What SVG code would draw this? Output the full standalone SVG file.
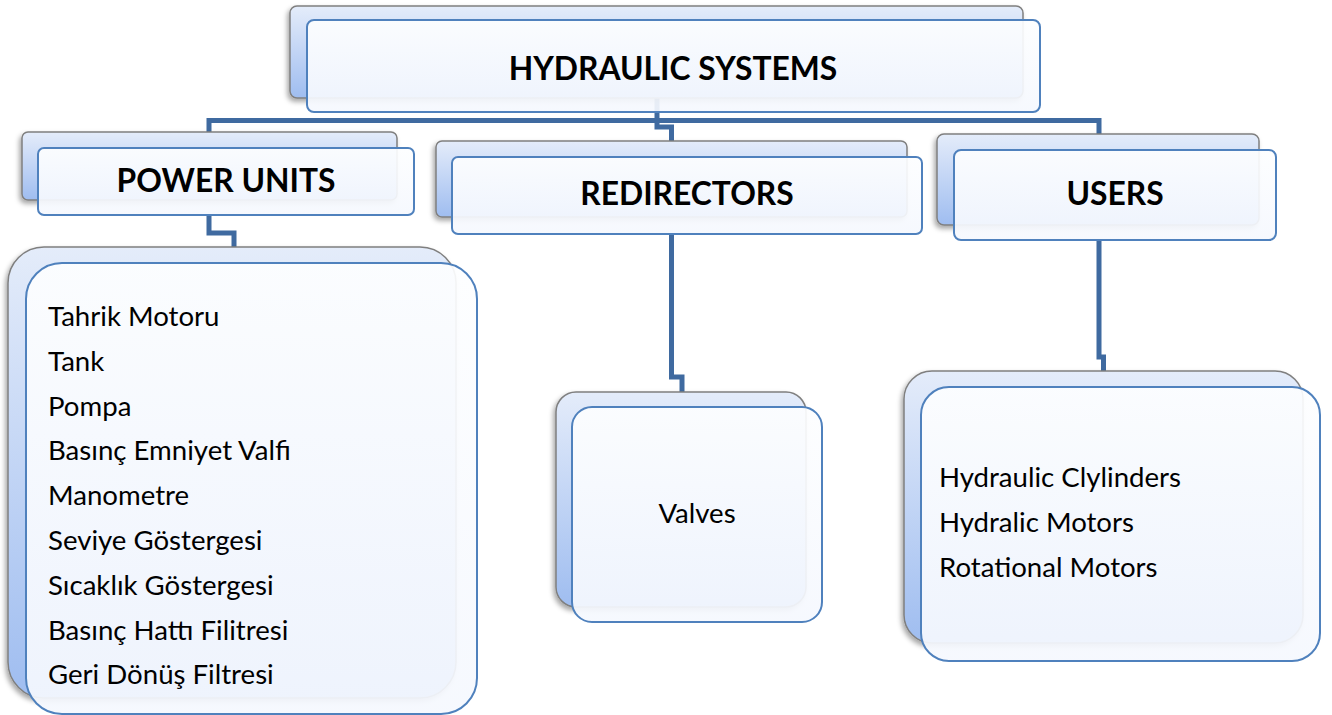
<svg xmlns="http://www.w3.org/2000/svg" width="1332" height="715" viewBox="0 0 1332 715">
<defs>
<linearGradient id="backGrad" x1="0" y1="0" x2="0" y2="1">
<stop offset="0" stop-color="#e4ecfa"/>
<stop offset="1" stop-color="#9fbdf0"/>
</linearGradient>
<linearGradient id="frontGrad" x1="0" y1="0" x2="0" y2="1">
<stop offset="0" stop-color="#fdfeff"/>
<stop offset="1" stop-color="#f5f8fe"/>
</linearGradient>
<filter id="shadow" x="-10%" y="-10%" width="120%" height="130%">
<feDropShadow dx="-2" dy="3" stdDeviation="2.5" flood-color="#000" flood-opacity="0.35"/>
</filter>
</defs>
<style>
.back{fill:url(#backGrad);stroke:#7f7f7f;stroke-width:1.5;filter:url(#shadow)}
.front{fill:url(#frontGrad);fill-opacity:0.92;stroke:#4f81bd;stroke-width:2}
.conn{fill:none;stroke:#3f6aa0;stroke-width:5;stroke-linejoin:miter}
.head{font-family:Lato,"Open Sans",sans-serif;font-weight:bold;font-size:31.8px;fill:#000;text-anchor:middle}
.item{font-family:Lato,"Open Sans",sans-serif;font-size:27.6px;fill:#000}
</style>
<rect width="1332" height="715" fill="#ffffff"/>
<g id="connectors">
<path class="conn" d="M657,98 V120.5"/>
<path class="conn" d="M209,150 V120.5 H1099 V150"/>
<path class="conn" d="M657,120.5 V127 H671.5 V157"/>
<path class="conn" d="M209,215 V233 H234 V247"/>
<path class="conn" d="M671.5,234 V377 H682 V392"/>
<path class="conn" d="M1099,240 V357 H1103.5 V371"/>
</g>
<g id="node-hydraulic-systems">
<rect class="back" x="290" y="6" width="733" height="92" rx="7"/>
<rect class="front" x="307" y="20" width="733" height="92" rx="7"/>
<text class="head" x="673" y="80">HYDRAULIC SYSTEMS</text>
</g>
<g id="node-power-units">
<rect class="back" x="22" y="132" width="375" height="68" rx="6"/>
<rect class="front" x="38" y="148" width="376" height="67" rx="6"/>
<text class="head" x="226" y="192">POWER UNITS</text>
</g>
<g id="node-redirectors">
<rect class="back" x="436" y="141" width="471" height="76" rx="6"/>
<rect class="front" x="452" y="157" width="470" height="77" rx="6"/>
<text class="head" x="687" y="205">REDIRECTORS</text>
</g>
<g id="node-users">
<rect class="back" x="937" y="134" width="322" height="91" rx="7"/>
<rect class="front" x="954" y="150" width="322" height="90" rx="7"/>
<text class="head" x="1115" y="205">USERS</text>
</g>
<g id="node-power-units-list">
<rect class="back" x="8" y="247" width="448" height="451" rx="36"/>
<rect class="front" x="26" y="263" width="451" height="451" rx="36"/>
<text class="item" x="48" y="326">Tahrik Motoru</text>
<text class="item" x="48" y="371">Tank</text>
<text class="item" x="48" y="416">Pompa</text>
<text class="item" x="48" y="460">Basınç Emniyet Valfi</text>
<text class="item" x="48" y="505">Manometre</text>
<text class="item" x="48" y="550">Seviye Göstergesi</text>
<text class="item" x="48" y="595">Sıcaklık Göstergesi</text>
<text class="item" x="48" y="640">Basınç Hattı Filitresi</text>
<text class="item" x="48" y="684">Geri Dönüş Filtresi</text>
</g>
<g id="node-valves">
<rect class="back" x="556" y="392" width="250" height="215" rx="20"/>
<rect class="front" x="572" y="407" width="250" height="215" rx="20"/>
<text class="item" x="697" y="523" text-anchor="middle">Valves</text>
</g>
<g id="node-users-list">
<rect class="back" x="904" y="371" width="399" height="272" rx="28"/>
<rect class="front" x="921" y="387" width="399" height="274" rx="28"/>
<text class="item" x="939" y="487">Hydraulic Clylinders</text>
<text class="item" x="939" y="532">Hydralic Motors</text>
<text class="item" x="939" y="577">Rotational Motors</text>
</g>
</svg>
